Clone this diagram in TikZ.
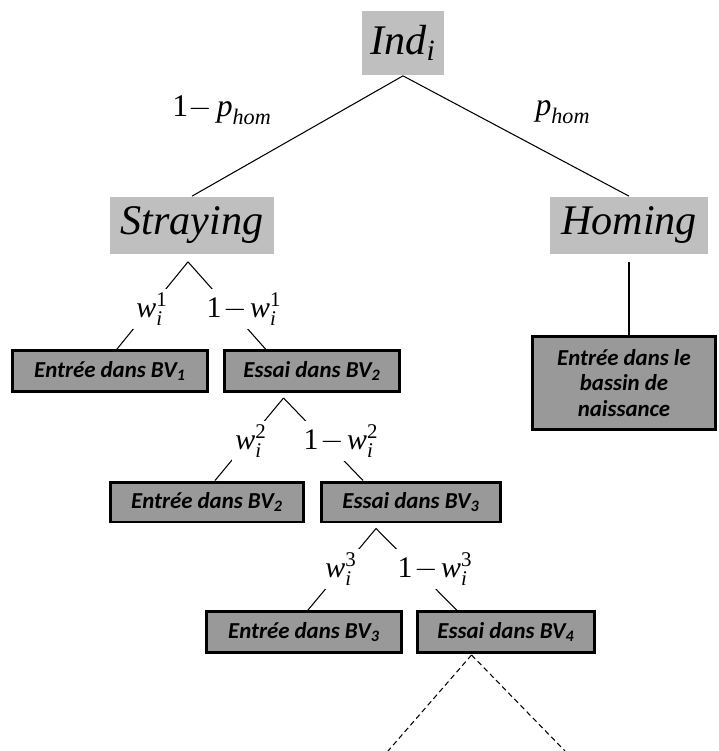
\documentclass[tikz,border=0pt]{standalone}
\usepackage{amsmath}
\usepackage{fontspec}
\setmainfont{Liberation Serif}
\newfontfamily\boxfont{Carlito}
\usetikzlibrary{positioning, calc}

\newcommand{\wprob}[1]{$\textit{w}^{\textrm{#1}}_{\textit{i}}$}
\newcommand{\wcompl}[1]{$\textrm{1}\mkern1mu{-}\mkern2mu\textit{w}^{\textrm{#1}}_{\textit{i}}$}

\begin{document}
\begin{tikzpicture}[
    x=0.02cm, y=-0.02cm,
    every node/.style={align=center, inner sep=0pt},
    state/.style={rectangle, fill=gray!50, minimum height=1.14cm, font=\fontsize{24}{28}\selectfont\itshape},
    box/.style={rectangle, draw=black, line width=1.7pt, fill=gray!80, minimum height=0.82cm, font=\boxfont\fontsize{13}{14.6}\selectfont\bfseries\itshape},
    toplab/.style={font=\fontsize{18}{22}\selectfont},
    prob/.style={fill=white, inner sep=2pt, font=\fontsize{17}{20}\selectfont},
    link/.style={line width=0.6pt}
]
\useasboundingbox (0,0) rectangle (719,751);

% NODES
\node[state, minimum width=1.66cm, minimum height=1.3cm] (ind) at (403,43) {Ind$_{\textit{i}}$};
\node[state, minimum width=3.3cm] (stray) at (192,225) {Straying};
\node[state, minimum width=3.16cm] (hom) at (629,225) {Homing};
\node[toplab] (phom1) at (222,110) {$\textrm{1}{-}\,\textit{p}_{\textit{hom}}$};
\node[toplab] (phom2) at (563,112) {$\textit{p}_{\textit{hom}}$};

\node[box, minimum width=3.9cm] (entree1) at (110,371) {Entrée dans BV\textsubscript{1}};
\node[box, minimum width=3.52cm] (essai2) at (312,371) {Essai dans BV\textsubscript{2}};
\node[box, minimum width=3.86cm, minimum height=0.8cm] (entree2) at (207,502) {Entrée dans BV\textsubscript{2}};
\node[box, minimum width=3.58cm, minimum height=0.8cm] (essai3) at (411,502) {Essai dans BV\textsubscript{3}};
\node[box, minimum width=3.9cm] (entree3) at (304,632) {Entrée dans BV\textsubscript{3}};
\node[box, minimum width=3.56cm] (essai4) at (506,632) {Essai dans BV\textsubscript{4}};
\node[box, minimum width=3.66cm, minimum height=1.86cm] (naiss) at (624,383) {Entrée dans le\\bassin de\\naissance};

% SPLIT POINTS
\coordinate (a1) at ($(stray.south)+(-4,8)$);
\coordinate (a2) at ($(essai2.south west)+(61,5)$);
\coordinate (a3) at ($(essai3.south west)+(56,5)$);
\coordinate (a4) at ($(hom.south)+(0,8)$);
\coordinate (a5) at ($(essai4.south west)+(56,1)$);
\coordinate (d1) at (388,751);
\coordinate (d2) at (565,751);

% LINES
\draw[link] (ind.south) -- (stray.north);
\draw[link] (ind.south) -- (hom.north);
\draw[link] (a4) -- (a4 |- naiss.north);
\draw[link] (a1) -- ($(entree1.north)+(7,0)$);
\draw[link] (a1) -- ($(essai2.north west)+(43,0)$);
\draw[link] (a2) -- ($(entree2.north)+(8,0)$);
\draw[link] (a2) -- ($(essai3.north west)+(43,0)$);
\draw[link] (a3) -- ($(entree3.north)+(4,0)$);
\draw[link] (a3) -- ($(essai4.north west)+(41,0)$);
\draw[link, dash pattern=on 3pt off 2pt] (a5) -- (d1);
\draw[link, dash pattern=on 3pt off 2pt] (a5) -- (d2);

% PROBABILITIES
\node[prob] (w1) at (152,309) {\wprob{1}};
\node[prob] (v1) at (244,309) {\wcompl{1}};
\node[prob] (w2) at (251,441) {\wprob{2}};
\node[prob] (v2) at (341,441) {\wcompl{2}};
\node[prob] (w3) at (341,569) {\wprob{3}};
\node[prob] (v3) at (435,569) {\wcompl{3}};

\end{tikzpicture}
\end{document}
